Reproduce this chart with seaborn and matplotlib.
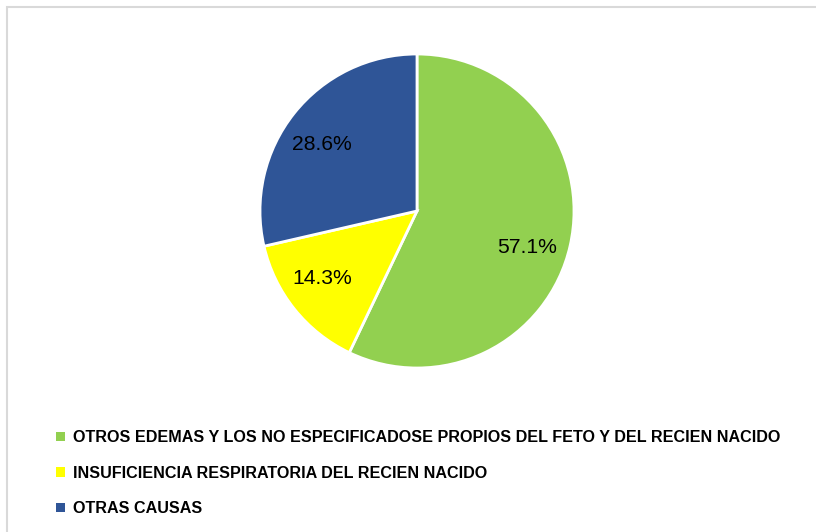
import matplotlib
import numpy as np
import seaborn as sns
matplotlib.use("Agg")
import matplotlib.pyplot as plt
from matplotlib.patches import Patch, Rectangle

causes = [
    "OTROS EDEMAS Y LOS NO ESPECIFICADOSE PROPIOS DEL FETO Y DEL RECIEN NACIDO",
    "INSUFICIENCIA RESPIRATORIA DEL RECIEN NACIDO",
    "OTRAS CAUSAS",
]
shares = [57.1, 14.3, 28.6]
colors = ["#92D050", "#FFFF00", "#2F5597"]

# small angular nudges so the % labels sit where Excel put them
label_nudge_deg = [-5.4, -3.4, 3.8]

sns.set_theme(style="white")
plt.rcParams["font.family"] = ["Liberation Sans", "DejaVu Sans"]

W, H = 816, 532
fig = plt.figure(figsize=(W / 100, H / 100), dpi=100)
fig.patch.set_facecolor("white")

# chart frame (light grey border, runs off the right/bottom edge)
fig.add_artist(Rectangle((6.5 / W, -0.1), 1.2, 1 - 6.5 / H + 0.1,
                         transform=fig.transFigure, fill=False,
                         edgecolor="#D9D9D9", linewidth=1.5))

cx, cy, r = 417, 211, 157
ax = fig.add_axes([(cx - r) / W, (H - cy - r) / H, 2 * r / W, 2 * r / H])
wedges, texts, autotexts = ax.pie(
    shares, colors=colors, startangle=90, counterclock=False,
    autopct="%.1f%%", pctdistance=0.74,
    wedgeprops=dict(edgecolor="white", linewidth=2),
    textprops=dict(fontsize=15.2, color="black"),
)
for w, t, nudge in zip(wedges, autotexts, label_nudge_deg):
    ang = np.deg2rad((w.theta1 + w.theta2) / 2 + nudge)
    t.set_position((0.74 * np.cos(ang), 0.74 * np.sin(ang)))

ax.set_xlim(-1, 1)
ax.set_ylim(-1, 1)
ax.set_aspect("equal")
ax.axis("off")

handles = [Patch(facecolor=c, edgecolor="none") for c in colors]
leg = fig.legend(
    handles, causes, loc="upper left",
    bbox_to_anchor=(50 / W, 1 - 424 / H), frameon=False,
    handlelength=0.5, handleheight=0.5, handletextpad=0.5,
    labelspacing=1.25, borderaxespad=0,
    prop=dict(weight="bold", size=11.65),
)
for t in leg.get_texts():
    t.set_color("black")

fig.savefig("out.png", dpi=100)
